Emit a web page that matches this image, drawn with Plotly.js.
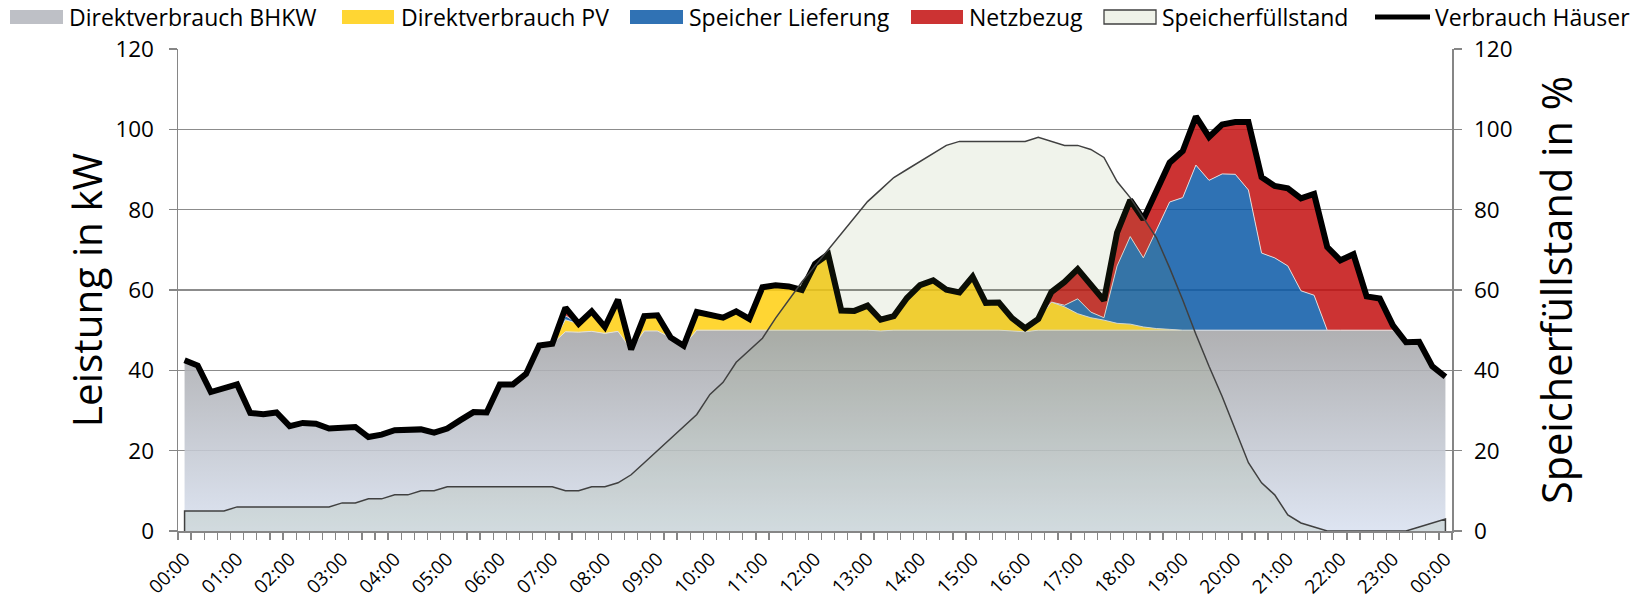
<!DOCTYPE html>
<html>
<head>
<meta charset="utf-8">
<script src="https://cdn.plot.ly/plotly-3.0.1.min.js"></script>
<style>
html,body{margin:0;padding:0;background:#fff;}
#chart{width:1650px;height:602px;}
</style>
</head>
<body>
<div id="chart"></div>
<script>
// Hourly tick labels (categories are 15-minute steps, 00:00 .. 00:00)
const stundenLabels = ["00:00","01:00","02:00","03:00","04:00","05:00","06:00","07:00","08:00","09:00",
  "10:00","11:00","12:00","13:00","14:00","15:00","16:00","17:00","18:00","19:00",
  "20:00","21:00","22:00","23:00","00:00"];

// Verbrauch Häuser (kW)
const verbrauch = [42.5,41.2,34.6,35.5,36.5,29.4,29.1,29.5,26.1,26.9,
  26.7,25.5,25.7,25.9,23.4,24.0,25.1,25.2,25.3,24.5,
  25.5,27.6,29.6,29.5,36.5,36.5,39.1,46.2,46.6,55.6,
  51.6,54.7,50.8,57.6,45.2,53.5,53.7,48.2,46.1,54.5,
  53.7,53.1,54.7,52.8,60.7,61.2,60.9,60.0,66.5,68.9,
  54.9,54.8,56.1,52.6,53.5,58.0,61.2,62.4,60.1,59.4,
  63.3,56.8,56.9,53.0,50.5,52.8,59.5,62.0,65.2,61.1,
  57.4,74.3,82.4,77.6,84.6,91.7,94.6,103.2,98.1,101.2,
  101.8,101.8,88.1,85.9,85.3,82.8,83.9,70.7,67.4,68.9,
  58.4,57.9,51.2,47.0,47.1,41.0,38.4];

// Direktverbrauch BHKW (kW)
const bhkw = [42.5,41.2,34.6,35.5,36.5,29.4,29.1,29.5,26.1,26.9,
  26.7,25.5,25.7,25.9,23.4,24.0,25.1,25.2,25.3,24.5,
  25.5,27.6,29.6,29.5,36.5,36.5,39.1,46.2,46.6,49.6,
  49.5,49.7,49.2,49.7,45.2,49.8,49.8,48.2,46.1,50.0,
  50,50,50,50,50,50,50,50,50,50,
  50,50,50,49.8,50,50,50,50,50,50,
  50,50,50,49.8,49.6,50,50,50,50,50,
  50,50,50,50,50,50,50,50,50,50,
  50,50,50,50,50,50,50,50,50,50,
  50,50,50,47.0,47.1,41.0,38.4];

// Direktverbrauch PV (kW)
const pv = [0,0,0,0,0,0,0,0,0,0,
  0,0,0,0,0,0,0,0,0,0,
  0,0,0,0,0,0,0,0,0,3.0,
  2.1,5.0,1.6,7.9,0,3.7,3.9,0,0,4.5,
  3.7,3.1,4.7,2.8,10.7,11.2,10.9,10.0,16.5,18.9,
  4.9,4.8,6.1,2.8,3.5,8.0,11.2,12.4,10.1,9.4,
  13.3,6.8,6.9,3.2,0.9,2.8,7.0,5.8,4.1,3.1,
  2.5,1.7,1.5,0.8,0.4,0.2,0,0,0,0,
  0,0,0,0,0,0,0,0,0,0,
  0,0,0,0,0,0,0];

// Speicher Lieferung (kW)
const speicher = [0,0,0,0,0,0,0,0,0,0,
  0,0,0,0,0,0,0,0,0,0,
  0,0,0,0,0,0,0,0,0,1.0,
  0,0,0,0,0,0,0,0,0,0,
  0,0,0,0,0,0,0,0,0,0,
  0,0,0,0,0,0,0,0,0,0,
  0,0,0,0,0,0,0,0.4,3.7,1.4,
  0.6,14.3,21.8,17.2,24.5,31.7,33.0,41.1,37.3,38.9,
  38.8,34.9,19.2,18.0,16.0,9.8,8.7,0,0,0,
  0,0,0,0,0,0,0];

// Netzbezug (kW)
const netz = [0,0,0,0,0,0,0,0,0,0,
  0,0,0,0,0,0,0,0,0,0,
  0,0,0,0,0,0,0,0,0,2.0,
  0,0,0,0,0,0,0,0,0,0,
  0,0,0,0,0,0,0,0,0,0,
  0,0,0,0,0,0,0,0,0,0,
  0,0,0,0,0,0,2.5,5.8,7.4,6.6,
  4.3,8.3,9.1,9.6,9.7,9.8,11.6,12.1,10.8,12.3,
  13.0,16.9,18.9,17.9,19.3,23.0,25.2,20.7,17.4,18.9,
  8.4,7.9,1.2,0,0,0,0];

// Speicherfüllstand (%)
const fuellstand = [5,5,5,5,6,6,6,6,6,6,
  6,6,7,7,8,8,9,9,10,10,
  11,11,11,11,11,11,11,11,11,10,
  10,11,11,12,14,17,20,23,26,29,
  34,37,42,45,48,53,57.5,62,66,70,
  74,78,82,85,88,90,92,94,96,97,
  97,97,97,97,97,98,97,96,96,95,
  93,87,83,78,73,65.5,57.5,49,41,33.5,
  25,17,12,9,4,2,1,0,0,0,
  0,0,0,0,1,2,3];

// Legend entries
const legendNamen = ['Direktverbrauch BHKW', 'Direktverbrauch PV', 'Speicher Lieferung',
  'Netzbezug', 'Speicherfüllstand', 'Verbrauch Häuser'];

const idx = verbrauch.map((_, i) => i);
const tickPos = stundenLabels.map((_, k) => k * 4);
const last = idx[idx.length - 1];

const edge = {color: 'rgba(225,225,225,0.95)', width: 1};
const base = {x: idx, type: 'scatter', mode: 'lines', stackgroup: 'leistung', hoverinfo: 'skip', showlegend: false};

const traces = [
  Object.assign({}, base, {
    name: legendNamen[0], y: bhkw, line: edge,
    fillcolor: 'rgba(190,192,198,0.88)',
    fillgradient: {type: 'vertical', start: 0, stop: 52,
      colorscale: [[0, 'rgba(217,225,240,0.88)'], [1, 'rgba(163,163,165,0.88)']]}
  }),
  Object.assign({}, base, {name: legendNamen[1], y: pv, line: edge, fillcolor: 'rgba(255,207,15,0.85)'}),
  Object.assign({}, base, {name: legendNamen[2], y: speicher, line: edge, fillcolor: 'rgba(11,89,167,0.85)'}),
  Object.assign({}, base, {name: legendNamen[3], y: netz, line: {color: 'rgba(0,0,0,0)', width: 0}, fillcolor: 'rgba(195,15,15,0.85)'}),
  {
    name: legendNamen[4], type: 'scatter', mode: 'lines', yaxis: 'y2', hoverinfo: 'skip', showlegend: false,
    x: [idx[0]].concat(idx, [last]), y: [0].concat(fuellstand, [0]),
    fill: 'tozeroy', fillcolor: 'rgba(105,135,55,0.10)',
    line: {color: '#404040', width: 1.5}
  },
  {name: legendNamen[5], type: 'scatter', mode: 'lines', x: idx, y: verbrauch, hoverinfo: 'skip', showlegend: false,
   line: {color: '#000000', width: 6}}
];

// ---- custom legend row (pixel layout converted to paper coordinates) ----
const M = {l: 178, r: 198, t: 49, b: 71};
const W = 1650, H = 602;
const pw = W - M.l - M.r, ph = H - M.t - M.b;
const px = v => (v - M.l) / pw;
const py = v => (H - M.b - v) / ph;

const swatches = [
  {x0: 10,   x1: 63,   tx: 67,   kind: 'box', fill: '#bec0c6', line: 'rgba(0,0,0,0)'},
  {x0: 342,  x1: 394,  tx: 399,  kind: 'box', fill: '#ffd633', line: 'rgba(0,0,0,0)'},
  {x0: 630,  x1: 683,  tx: 687,  kind: 'box', fill: '#3072b4', line: 'rgba(0,0,0,0)'},
  {x0: 911,  x1: 963,  tx: 967,  kind: 'box', fill: '#cc3333', line: 'rgba(0,0,0,0)'},
  {x0: 1104, x1: 1156, tx: 1160, kind: 'box', fill: '#eff2e9', line: '#404040'},
  {x0: 1375, x1: 1430, tx: 1433, kind: 'line'}
];
const legY = 17, boxH = 14;
const shapes = [];
const annotations = [];
swatches.forEach((s, k) => {
  if (s.kind === 'box') {
    shapes.push({type: 'rect', xref: 'paper', yref: 'paper',
      x0: px(s.x0), x1: px(s.x1), y0: py(legY - boxH / 2), y1: py(legY + boxH / 2),
      fillcolor: s.fill, line: {color: s.line, width: 1.3}, layer: 'above'});
  } else {
    shapes.push({type: 'line', xref: 'paper', yref: 'paper',
      x0: px(s.x0), x1: px(s.x1), y0: py(legY), y1: py(legY),
      line: {color: '#000000', width: 5}, layer: 'above'});
  }
  annotations.push({text: legendNamen[k], xref: 'paper', yref: 'paper',
    x: px(s.tx), y: py(legY), xanchor: 'left', yanchor: 'middle', showarrow: false,
    font: {size: 23, color: '#000000'}});
});

const axisGray = '#868686';
const layout = {
  width: W, height: H,
  margin: {l: M.l, r: M.r, t: M.t, b: M.b, pad: 0, autoexpand: false},
  paper_bgcolor: '#ffffff', plot_bgcolor: '#ffffff',
  font: {family: 'Open Sans, sans-serif', color: '#000000', size: 22},
  showlegend: false,
  shapes: shapes,
  annotations: annotations,
  xaxis: {
    range: [-0.5, 96.5], tickmode: 'array', tickvals: tickPos, ticktext: stundenLabels,
    tickangle: -45, ticks: '', ticklabelstandoff: 8, tickfont: {size: 19},
    showgrid: false, zeroline: false, showline: true, linecolor: axisGray, linewidth: 1.5,
    minor: {tickmode: 'linear', tick0: 0.5, dtick: 1, ticks: 'outside', ticklen: 7,
      tickcolor: axisGray, tickwidth: 1.3, showgrid: false},
    automargin: false, fixedrange: true
  },
  yaxis: {
    range: [0, 120], tickmode: 'linear', tick0: 0, dtick: 20,
    ticks: 'outside', ticklen: 8, tickcolor: axisGray, tickwidth: 1.5,
    showline: true, linecolor: axisGray, linewidth: 1.5,
    showgrid: true, gridcolor: '#8c8c8c', gridwidth: 1.5, zeroline: false,
    tickfont: {size: 22.5}, ticklabelstandoff: 10,
    title: {text: 'Leistung in kW', font: {size: 40.5}, standoff: 0},
    automargin: false, fixedrange: true
  },
  yaxis2: {
    overlaying: 'y', side: 'right', range: [0, 120], tickmode: 'linear', tick0: 0, dtick: 20,
    ticks: 'outside', ticklen: 8, tickcolor: axisGray, tickwidth: 1.5,
    showline: true, linecolor: axisGray, linewidth: 1.5,
    showgrid: false, zeroline: false,
    tickfont: {size: 22.5}, ticklabelstandoff: 8,
    title: {text: 'Speicherfüllstand in %', font: {size: 41.5}, standoff: 31},
    automargin: false, fixedrange: true
  }
};

Plotly.newPlot('chart', traces, layout, {staticPlot: true, displayModeBar: false});
</script>
</body>
</html>
